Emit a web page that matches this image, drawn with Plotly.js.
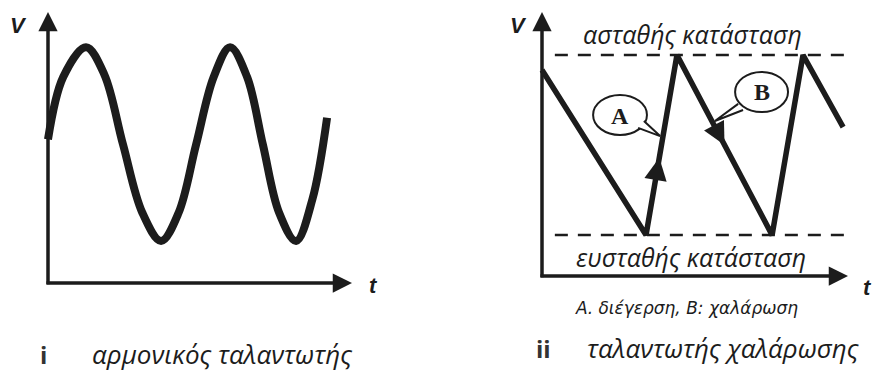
<!DOCTYPE html>
<html>
<head>
<meta charset="utf-8">
<script src="https://cdn.plot.ly/plotly-3.0.1.min.js"></script>
<style>html,body{margin:0;padding:0;background:#fff}#chart{width:872px;height:372px}</style>
</head>
<body>
<div id="chart"></div>
<script>
// ---- data ----
// panel i: harmonic oscillator (t, V in arbitrary units, axis tip = 10)
const sineT = [0, 0.5, 1.25, 1.85, 2.47, 3.1, 3.72, 4.3, 4.87, 5.45, 5.99, 6.55, 7.07, 7.6, 8.16, 8.7, 9.18];
const sineV = [5.3, 7.6, 8.7, 7.7, 5.1, 2.6, 1.55, 2.6, 5.1, 7.6, 8.7, 7.6, 5.1, 2.6, 1.55, 3.1, 6.1];
// panel ii: relaxation oscillator
const sawT = [0, 3.4, 4.41, 7.52, 8.53, 9.84];
const sawV = [7.8, 1.55, 8.37, 1.55, 8.37, 5.64];
const levelT = [0.42, 10];
const upperLevel = 8.37;
const lowerLevel = 1.55;
// text
const axisLabelV = 'V';
const axisLabelT = 't';
const upperLabel = 'ασταθής κατάσταση';
const lowerLabel = 'ευσταθής κατάσταση';
const captionText = 'Α. διέγερση, Β: χαλάρωση';
const panelNums = ['i', 'ii'];
const panelTitles = ['αρμονικός ταλαντωτής', 'ταλαντωτής χαλάρωσης'];
const calloutLabels = ['A', 'B'];

const INK = '#1c1c1c';
const W = 872, H = 372;
const px = v => v / W, py = v => 1 - v / H;

const traces = [
  {x: sineT, y: sineV, xaxis: 'x', yaxis: 'y', mode: 'lines',
   line: {color: INK, width: 8, shape: 'spline', smoothing: 1}, hoverinfo: 'skip'},
  {x: levelT, y: levelT.map(() => upperLevel), xaxis: 'x2', yaxis: 'y2', mode: 'lines',
   line: {color: INK, width: 2.5, dash: '13px,10px'}, hoverinfo: 'skip'},
  {x: levelT, y: levelT.map(() => lowerLevel), xaxis: 'x2', yaxis: 'y2', mode: 'lines',
   line: {color: INK, width: 2.5, dash: '13px,10px'}, hoverinfo: 'skip'},
  {x: sawT, y: sawV, xaxis: 'x2', yaxis: 'y2', mode: 'lines',
   line: {color: INK, width: 5.5}, hoverinfo: 'skip'}
];

function axisArrow(xr, yr, x, y, ax, ay) {
  return {xref: xr, yref: yr, axref: xr, ayref: yr, x: x, y: y, ax: ax, ay: ay, text: '',
          showarrow: true, arrowhead: 2, arrowsize: 1.1, arrowwidth: 3.5, arrowcolor: INK};
}
function segArrow(i, f) {
  const dx = sawT[i + 1] - sawT[i], dy = sawV[i + 1] - sawV[i];
  const tx = sawT[i] + f * dx, ty = sawV[i] + f * dy;
  return {xref: 'x2', yref: 'y2', axref: 'x2', ayref: 'y2', x: tx, y: ty,
          ax: tx - 0.12 * dx, ay: ty - 0.12 * dy, text: '', showarrow: true,
          arrowhead: 2, arrowsize: 0.9, arrowwidth: 5, arrowcolor: INK};
}
function label(x, y, text, font, xanchor) {
  return {xref: 'paper', yref: 'paper', x: px(x), y: py(y), text: text, showarrow: false,
          xanchor: xanchor || 'center', yanchor: 'middle', font: font};
}

const stateFont = {family: 'Open Sans, Noto Sans, sans-serif', size: 25, color: INK, style: 'italic'};
const titleFont = {family: 'Open Sans, Noto Sans, sans-serif', size: 26, color: INK, style: 'italic'};
const labFont = {family: 'Liberation Sans, Arial, sans-serif', size: 22, color: INK, weight: 'bold', style: 'italic'};
const numFont = {family: 'Open Sans, sans-serif', size: 24, color: '#333', weight: 'bold'};
const serifFont = {family: 'Liberation Serif, serif', size: 24, color: INK, weight: 'bold'};
const capFont = {family: 'DejaVu Sans, sans-serif', size: 17, color: INK, style: 'italic'};

const annotations = [
  axisArrow('x', 'y', 0, 10, 0, -0.1),
  axisArrow('x', 'y', 10, 0, -0.1, 0),
  axisArrow('x2', 'y2', 0, 10, 0, -0.1),
  axisArrow('x2', 'y2', 10, 0, -0.1, 0),
  segArrow(1, 0.43),
  segArrow(2, 0.5),
  label(18, 26, axisLabelV, labFont),
  label(373, 285, axisLabelT, labFont),
  label(518, 26, axisLabelV, labFont),
  label(861, 287, axisLabelT, labFont, 'left'),
  label(692, 34, upperLabel, stateFont),
  label(691, 257, lowerLabel, stateFont),
  label(686, 308, captionText, capFont),
  label(43, 354, panelNums[0], numFont),
  label(543, 348, panelNums[1], numFont),
  label(90, 354, panelTitles[0], titleFont, 'left'),
  label(585, 348, panelTitles[1], titleFont, 'left'),
  {xref: 'x2', yref: 'y2', x: 2.55, y: 6.06, text: calloutLabels[0], showarrow: false,
   xanchor: 'center', yanchor: 'middle', font: serifFont},
  {xref: 'x2', yref: 'y2', x: 7.19, y: 6.97, text: calloutLabels[1], showarrow: false,
   xanchor: 'center', yanchor: 'middle', font: serifFont}
];

const shapes = [
  {type: 'circle', xref: 'x2', yref: 'y2', x0: 1.67, x1: 3.43, y0: 5.34, y1: 6.86,
   line: {color: INK, width: 2}, fillcolor: 'white', layer: 'above'},
  {type: 'path', xref: 'x2', yref: 'y2', path: 'M3.33,5.87 L3.86,5.30 L3.14,5.61',
   line: {color: INK, width: 2}, fillcolor: 'white', layer: 'above'},
  {type: 'circle', xref: 'x2', yref: 'y2', x0: 6.31, x1: 8.04, y0: 6.21, y1: 7.73,
   line: {color: INK, width: 2}, fillcolor: 'white', layer: 'above'},
  {type: 'path', xref: 'x2', yref: 'y2', path: 'M6.41,6.52 L5.65,5.87 L6.57,6.29',
   line: {color: INK, width: 2}, fillcolor: 'white', layer: 'above'}
];

const hidden = {showgrid: false, zeroline: false, showticklabels: false, ticks: '', showline: false, fixedrange: true};
const layout = {
  width: W, height: H, margin: {l: 0, r: 0, t: 0, b: 0},
  paper_bgcolor: 'white', plot_bgcolor: 'rgba(0,0,0,0)', showlegend: false,
  xaxis: Object.assign({domain: [0, 0.5], range: [-1.579, 12.763]}, hidden),
  yaxis: Object.assign({domain: [0, 1], range: [-3.284, 10.443]}, hidden),
  xaxis2: Object.assign({domain: [0.5, 1], range: [-3.464, 10.784], anchor: 'y2'}, hidden),
  yaxis2: Object.assign({domain: [0, 1], range: [-3.636, 10.4545], anchor: 'x2'}, hidden),
  annotations: annotations, shapes: shapes
};
Plotly.newPlot('chart', traces, layout, {staticPlot: true, displayModeBar: false});
</script>
</body>
</html>
